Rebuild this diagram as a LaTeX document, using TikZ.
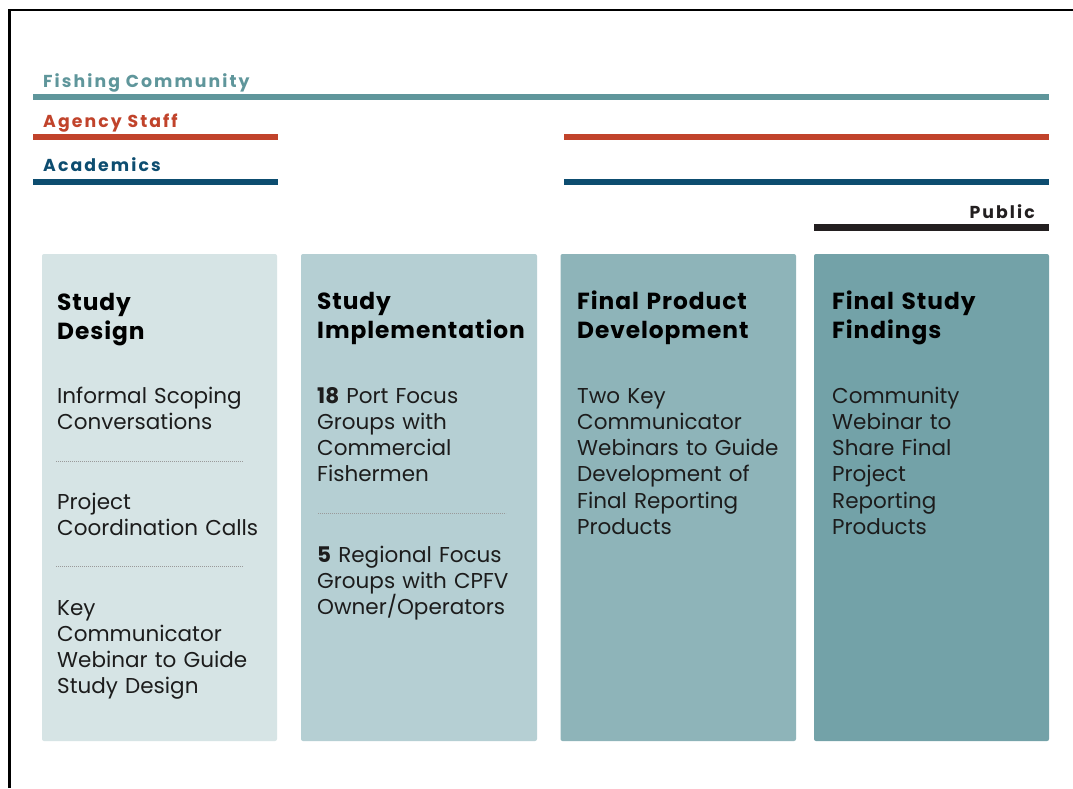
\documentclass[tikz,border=0pt]{standalone}
\usepackage{fontspec}
\setmainfont{Poppins}
\newfontfamily\tagfont[LetterSpace=12]{Poppins}
\newfontfamily\headfont[LetterSpace=4]{Poppins}

\definecolor{fishteal}{HTML}{5F969B}
\definecolor{agencyred}{HTML}{C1432B}
\definecolor{acadnavy}{HTML}{0D4D70}
\definecolor{publicblack}{HTML}{231F20}
\definecolor{phaseA}{HTML}{D6E4E5}
\definecolor{phaseB}{HTML}{B5CFD3}
\definecolor{phaseC}{HTML}{8EB4B9}
\definecolor{phaseD}{HTML}{73A2A8}
\definecolor{inktext}{HTML}{1C1C1C}
\definecolor{dotgrey}{HTML}{9A9A9A}

\tikzset{
  tag/.style={font=\tagfont\bfseries\fontsize{17.3}{19}\selectfont, inner sep=0pt, anchor=base west},
  bar/.style={line width=6pt},
  phase/.style={rounded corners=2pt},
  heading/.style={font=\headfont\bfseries\fontsize{23.3}{29.5}\selectfont, text=black,
    inner sep=0pt, anchor=base west, text width=225pt, align=left},
  body/.style={font=\fontsize{21.5}{26.3}\selectfont, text=inktext,
    inner sep=0pt, anchor=base west, text width=225pt, align=left},
  divider/.style={draw=dotgrey, line width=0.9pt, dash pattern=on 0.9pt off 1.1pt},
}

\begin{document}
\begin{tikzpicture}[x=1pt, y=-1pt]
\useasboundingbox (0,0) rectangle (1073,788);
\fill[white] (0,0) rectangle (1073,788);

% page frame (top and left edges)
\draw[black, line width=2.6pt] (9.5,788) -- (9.5,10) -- (1073,10);

% stakeholder bars
\node[tag, text=fishteal] (lfish) at (43,87) {Fishing Community};
\draw[bar, fishteal] (33,96.5) -- (1049,96.5);

\node[tag, text=agencyred] (lagency) at (43,127) {Agency Staff};
\draw[bar, agencyred] (33,137) -- (277.5,137);
\draw[bar, agencyred] (564,137) -- (1049,137);

\node[tag, text=acadnavy] (lacad) at (43,171.5) {Academics};
\draw[bar, acadnavy] (33,181.5) -- (277.5,181.5);
\draw[bar, acadnavy] (564,181.5) -- (1049,181.5);

\node[tag, text=publicblack, anchor=base east] (lpublic) at (1035,218) {Public};
\draw[bar, publicblack, line width=7pt] (814,227) -- (1049,227);

% phase columns
\fill[phase, phaseA] (42,254) rectangle (277,741);
\fill[phase, phaseB] (301,254) rectangle (537,741);
\fill[phase, phaseC] (560.5,254) rectangle (796,741);
\fill[phase, phaseD] (814,254) rectangle (1049,741);

% column 1
\node[heading] (h1) at (57,310) {Study\\Design};
\node[body] (b1a) at (57,403) {Informal Scoping\\Conversations};
\draw[divider] (56,461) -- (243,461);
\node[body] (b1b) at (57,509.5) {Project\\Coordination Calls};
\draw[divider] (56,566.5) -- (243,566.5);
\node[body] (b1c) at (57,615) {Key\\Communicator\\Webinar to Guide\\Study Design};

% column 2
\node[heading] (h2) at (317,309) {Study\\Implementation};
\node[body] (b2a) at (317,403) {\textbf{18} Port Focus\\Groups with\\Commercial\\Fishermen};
\draw[divider] (318,513) -- (506,513);
\node[body] (b2b) at (317,562) {\textbf{5} Regional Focus\\Groups with CPFV\\Owner/Operators};

% column 3
\node[heading] (h3) at (577,309) {Final Product\\Development};
\node[body] (b3a) at (577,403) {Two Key\\Communicator\\Webinars to Guide\\Development of\\Final Reporting\\Products};

% column 4
\node[heading] (h4) at (832,309) {Final Study\\Findings};
\node[body] (b4a) at (832,403) {Community\\Webinar to\\Share Final\\Project\\Reporting\\Products};
\end{tikzpicture}
\end{document}
